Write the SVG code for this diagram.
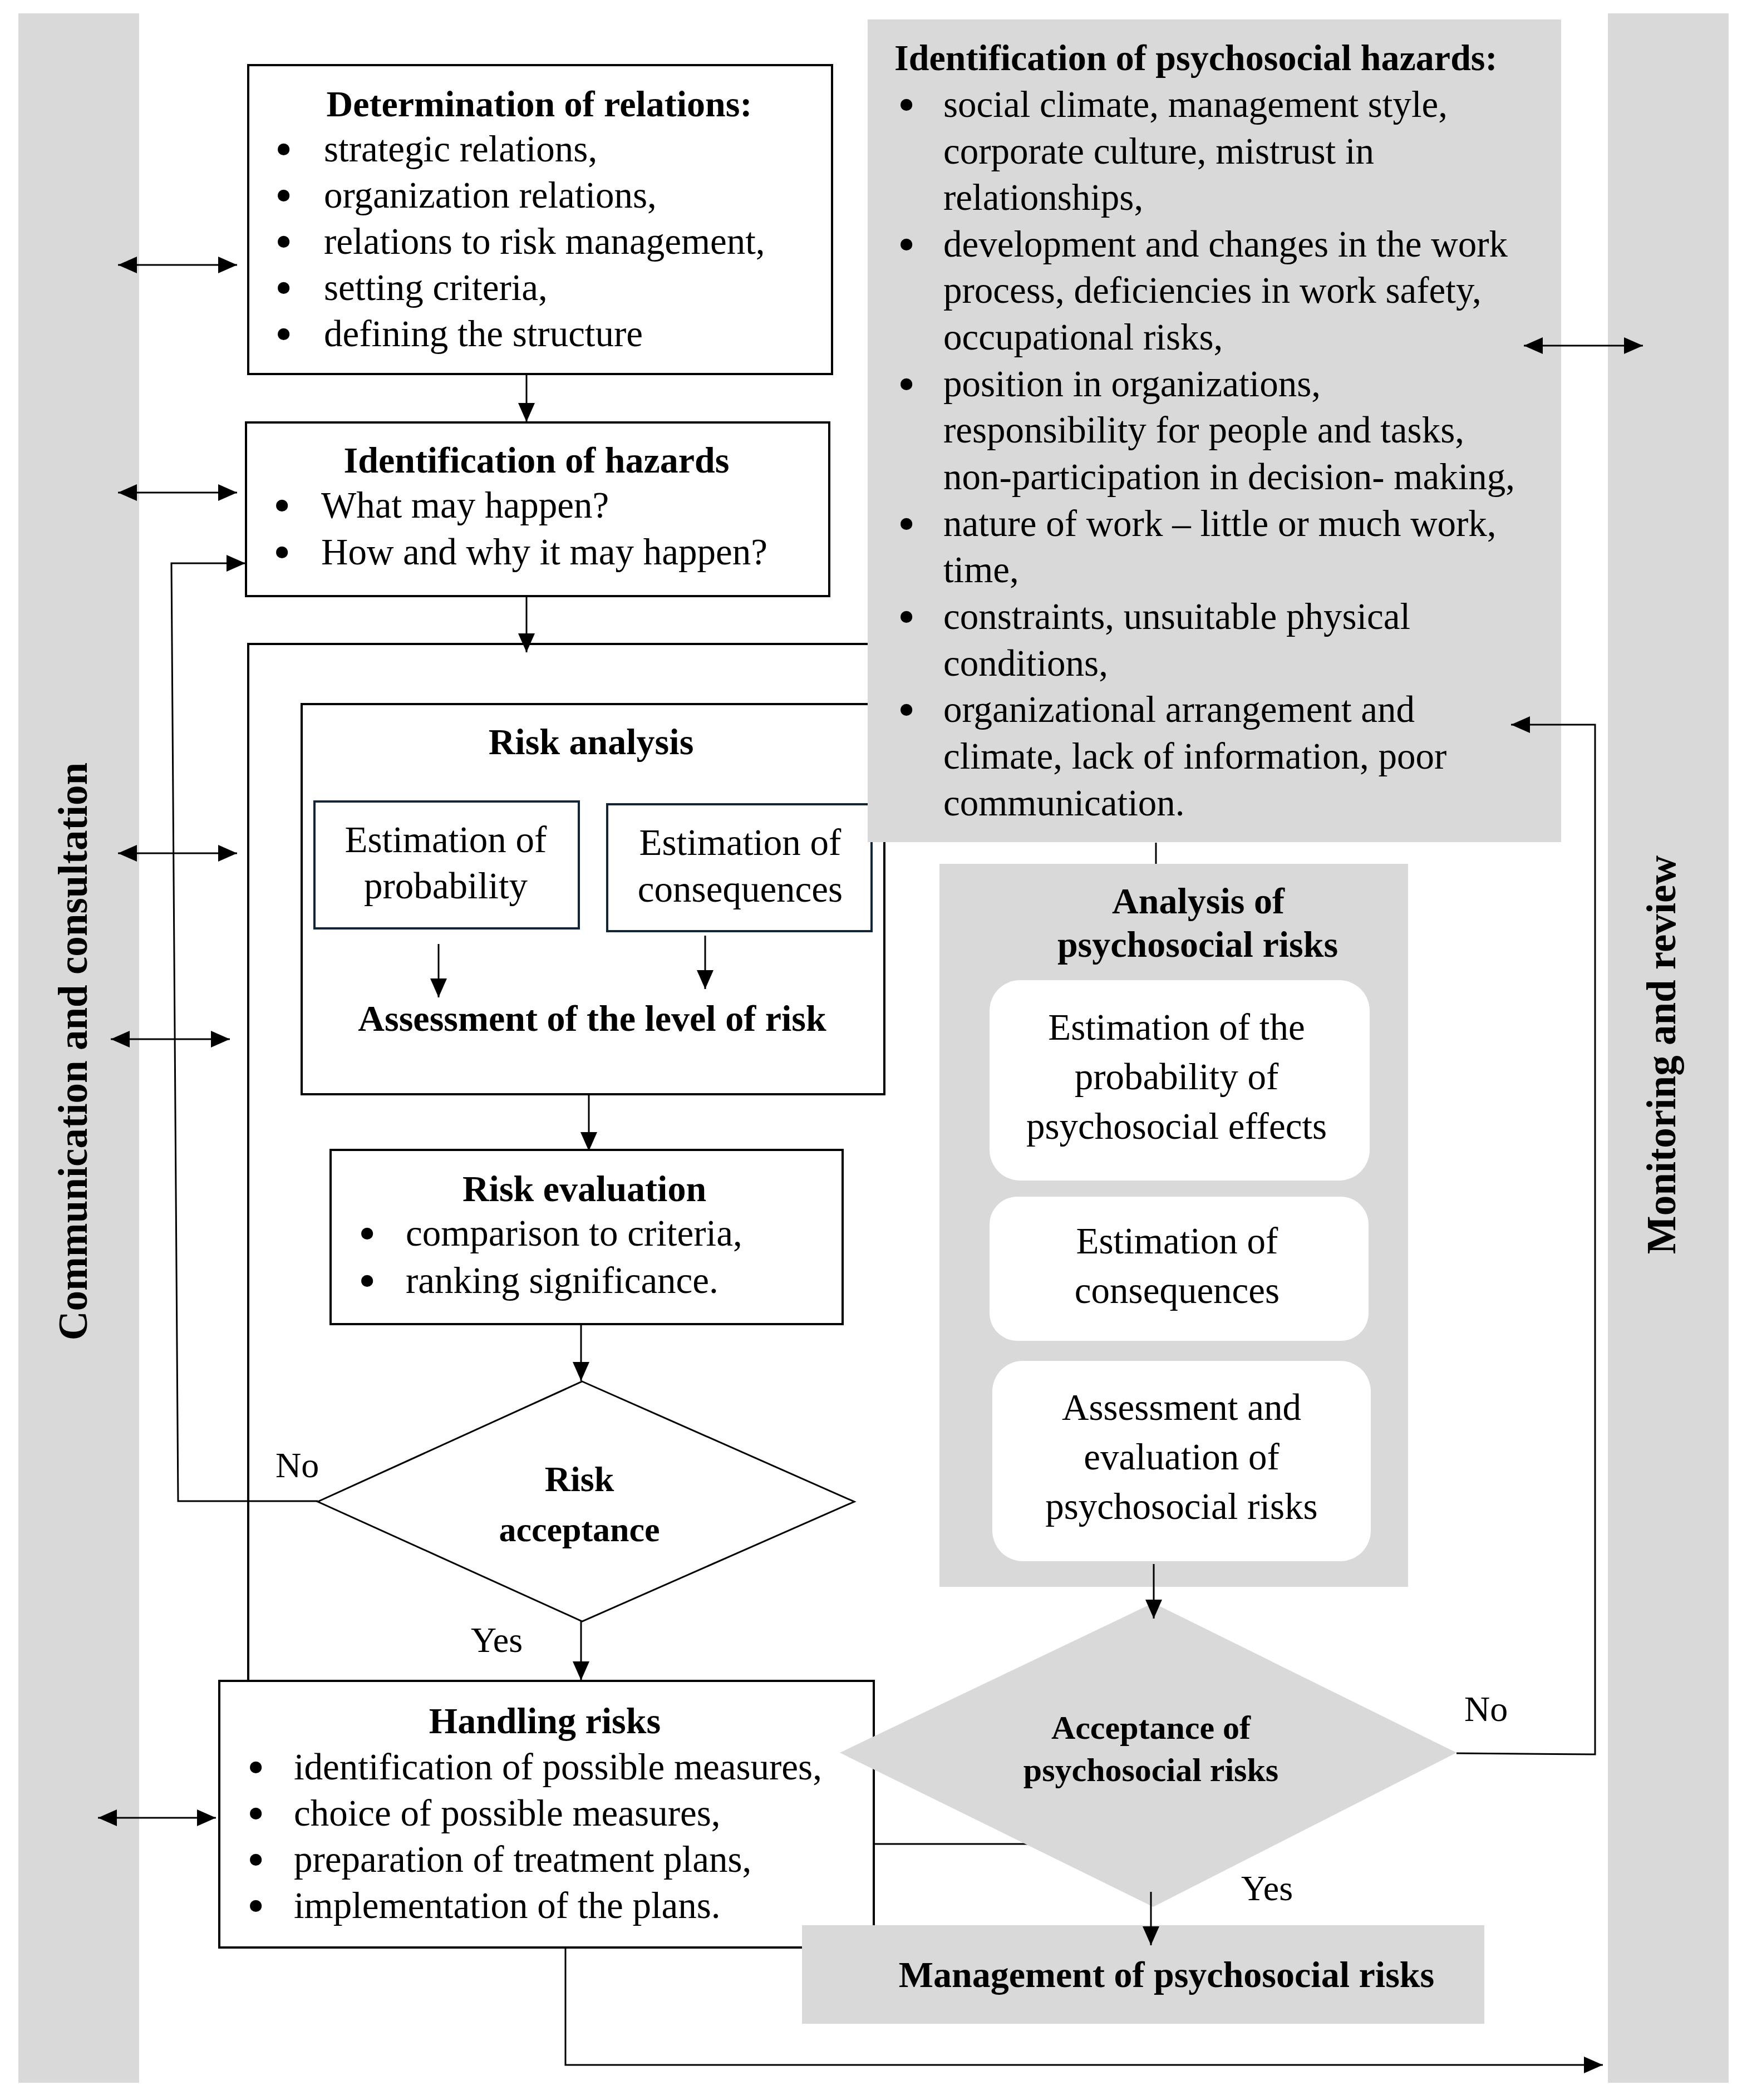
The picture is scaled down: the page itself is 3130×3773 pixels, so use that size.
<svg xmlns="http://www.w3.org/2000/svg" width="3130" height="3773" viewBox="0 0 3130 3773">
<style>
text{font-family:"Liberation Serif","Times New Roman",serif;fill:#000}
.r{font-size:67px}
.u{font-size:78px;font-weight:bold}
.b{font-size:66px;font-weight:bold}
.m{text-anchor:middle}
.box{fill:#fff;stroke:#000;stroke-width:4}
.nav{fill:#fff;stroke:#10253a;stroke-width:4}
.grey{fill:#d9d9d9}
.ln{fill:none;stroke:#000;stroke-width:3}
.arr{fill:none;stroke:#000;stroke-width:3;marker-end:url(#ah)}
.dbl{fill:none;stroke:#000;stroke-width:3;marker-start:url(#ah);marker-end:url(#ah)}
.band{font-size:73px;font-weight:bold;text-anchor:middle}
</style>
<defs>
<marker id="ah" markerUnits="userSpaceOnUse" markerWidth="34" markerHeight="30" viewBox="0 0 34 30" refX="34" refY="15" orient="auto-start-reverse"><path d="M0,0 L34,15 L0,30 z" fill="#000"/></marker>
</defs>
<rect width="3130" height="3773" fill="#fff"/>

<g id="band-communication">
<rect class="grey" x="33" y="24" width="217" height="3718"/>
<text class="band" transform="translate(156,1889) rotate(-90)">Communication and consultation</text>
</g>
<g id="band-monitoring">
<rect class="grey" x="2889" y="24" width="217" height="3718"/>
<text class="band" transform="translate(3010,1895) rotate(-90)">Monitoring and review</text>
</g>

<g id="outer-assessment">
<path class="ln" style="stroke-width:4" d="M446,3020 V1157 H1600"/>
</g>

<g id="connectors-under">
<path class="ln" d="M1570,3313 H1850"/>
</g>

<g id="determination">
<rect class="box" x="446" y="117" width="1049" height="555"/>
<text class="b m" x="969" y="209">Determination of relations:</text>
<text class="r" y="290"><tspan class="u" x="496" dy="4">•</tspan><tspan x="582" dy="-4">strategic relations,</tspan></text>
<text class="r" y="373"><tspan class="u" x="496" dy="4">•</tspan><tspan x="582" dy="-4">organization relations,</tspan></text>
<text class="r" y="456"><tspan class="u" x="496" dy="4">•</tspan><tspan x="582" dy="-4">relations to risk management,</tspan></text>
<text class="r" y="539"><tspan class="u" x="496" dy="4">•</tspan><tspan x="582" dy="-4">setting criteria,</tspan></text>
<text class="r" y="622"><tspan class="u" x="496" dy="4">•</tspan><tspan x="582" dy="-4">defining the structure</tspan></text>
</g>

<g id="hazards">
<rect class="box" x="442" y="759" width="1048" height="312"/>
<text class="b m" x="964" y="849">Identification of hazards</text>
<text class="r" y="930"><tspan class="u" x="493" dy="4">•</tspan><tspan x="577" dy="-4">What may happen?</tspan></text>
<text class="r" y="1014"><tspan class="u" x="493" dy="4">•</tspan><tspan x="577" dy="-4">How and why it may happen?</tspan></text>
</g>

<g id="risk-analysis">
<rect class="box" x="542" y="1265" width="1047" height="701"/>
<text class="b m" x="1062" y="1355">Risk analysis</text>
<text class="b m" x="1064" y="1852">Assessment of the level of risk</text>
</g>
<g id="est-probability">
<rect class="nav" x="565" y="1440" width="475" height="228"/>
<text class="r m" x="801" y="1531">Estimation of</text>
<text class="r m" x="801" y="1614">probability</text>
</g>
<g id="est-consequences">
<rect class="nav" x="1091" y="1445" width="475" height="228"/>
<text class="r m" x="1330" y="1536">Estimation of</text>
<text class="r m" x="1330" y="1620">consequences</text>
</g>

<g id="psychosocial-hazards">
<rect class="grey" x="1559" y="35" width="1246" height="1478"/>
<text class="b" x="1607" y="126">Identification of psychosocial hazards:</text>
<text class="r" y="210"><tspan class="u" x="1615" dy="4">•</tspan><tspan x="1695" dy="-4">social climate, management style,</tspan></text>
<text class="r" x="1695" y="294">corporate culture, mistrust in</text>
<text class="r" x="1695" y="377">relationships,</text>
<text class="r" y="461"><tspan class="u" x="1615" dy="4">•</tspan><tspan x="1695" dy="-4">development and changes in the work</tspan></text>
<text class="r" x="1695" y="544">process, deficiencies in work safety,</text>
<text class="r" x="1695" y="628">occupational risks,</text>
<text class="r" y="712"><tspan class="u" x="1615" dy="4">•</tspan><tspan x="1695" dy="-4">position in organizations,</tspan></text>
<text class="r" x="1695" y="795">responsibility for people and tasks,</text>
<text class="r" x="1695" y="879">non-participation in decision- making,</text>
<text class="r" y="963"><tspan class="u" x="1615" dy="4">•</tspan><tspan x="1695" dy="-4">nature of work – little or much work,</tspan></text>
<text class="r" x="1695" y="1046">time,</text>
<text class="r" y="1130"><tspan class="u" x="1615" dy="4">•</tspan><tspan x="1695" dy="-4">constraints, unsuitable physical</tspan></text>
<text class="r" x="1695" y="1214">conditions,</text>
<text class="r" y="1297"><tspan class="u" x="1615" dy="4">•</tspan><tspan x="1695" dy="-4">organizational arrangement and</tspan></text>
<text class="r" x="1695" y="1381">climate, lack of information, poor</text>
<text class="r" x="1695" y="1465">communication.</text>
</g>

<g id="risk-evaluation">
<rect class="box" x="594" y="2066" width="920" height="313"/>
<text class="b m" x="1050" y="2158">Risk evaluation</text>
<text class="r" y="2238"><tspan class="u" x="646" dy="4">•</tspan><tspan x="729" dy="-4">comparison to criteria,</tspan></text>
<text class="r" y="2323"><tspan class="u" x="646" dy="4">•</tspan><tspan x="729" dy="-4">ranking significance.</tspan></text>
</g>

<g id="risk-acceptance">
<path d="M1046,2482 L1535,2698 L1046,2913 L571,2698 Z" fill="#fff" stroke="#000" stroke-width="3"/>
<text class="b m" x="1041" y="2679" style="font-size:64px">Risk</text>
<text class="b m" x="1041" y="2769" style="font-size:62px">acceptance</text>
</g>

<g id="handling">
<rect class="box" x="394" y="3020" width="1176" height="479"/>
<text class="b m" x="979" y="3114">Handling risks</text>
<text class="r" y="3197"><tspan class="u" x="446" dy="4">•</tspan><tspan x="528" dy="-4">identification of possible measures,</tspan></text>
<text class="r" y="3280"><tspan class="u" x="446" dy="4">•</tspan><tspan x="528" dy="-4">choice of possible measures,</tspan></text>
<text class="r" y="3363"><tspan class="u" x="446" dy="4">•</tspan><tspan x="528" dy="-4">preparation of treatment plans,</tspan></text>
<text class="r" y="3446"><tspan class="u" x="446" dy="4">•</tspan><tspan x="528" dy="-4">implementation of the plans.</tspan></text>
</g>

<g id="psychosocial-analysis">
<rect class="grey" x="1688" y="1552" width="842" height="1299"/>
<text class="b m" x="2153" y="1641">Analysis of</text>
<text class="b m" x="2152" y="1719">psychosocial risks</text>
<rect x="1778" y="1761" width="683" height="360" rx="55" fill="#fff"/>
<text class="r m" x="2114" y="1868">Estimation of the</text>
<text class="r m" x="2114" y="1957">probability of</text>
<text class="r m" x="2114" y="2046">psychosocial effects</text>
<rect x="1778" y="2150" width="681" height="259" rx="50" fill="#fff"/>
<text class="r m" x="2115" y="2252">Estimation of</text>
<text class="r m" x="2115" y="2341">consequences</text>
<rect x="1783" y="2445" width="680" height="360" rx="55" fill="#fff"/>
<text class="r m" x="2123" y="2551">Assessment and</text>
<text class="r m" x="2123" y="2640">evaluation of</text>
<text class="r m" x="2123" y="2729">psychosocial risks</text>
</g>

<g id="psychosocial-acceptance">
<path d="M2072,2880 L2617,3149 L2072,3426 L1509,3149 Z" fill="#d9d9d9"/>
<text class="b m" x="2068" y="3124" style="font-size:60px">Acceptance of</text>
<text class="b m" x="2068" y="3200" style="font-size:60px">psychosocial risks</text>
</g>

<g id="psychosocial-management">
<rect class="grey" x="1441" y="3459" width="1226" height="177"/>
<text class="b m" x="2096" y="3570">Management of psychosocial risks</text>
</g>

<g id="connectors">
<path class="arr" d="M946,672 V758"/>
<path class="arr" d="M946,1071 V1172"/>
<path class="arr" d="M788,1696 V1792"/>
<path class="arr" d="M1267,1681 V1777"/>
<path class="arr" d="M1058,1968 V2068"/>
<path class="arr" d="M1044,2379 V2481"/>
<path class="arr" d="M1044,2913 V3019"/>
<path class="arr" d="M571,2697 H320 L308,1012 H441"/>
<path class="arr" d="M1016,3499 V3710 H2880"/>
<path class="ln" d="M2077,1514 V1552"/>
<path class="arr" d="M2073,2810 V2908"/>
<path class="arr" d="M2068,3399 V3495"/>
<path class="arr" d="M2617,3150 L2866,3152 V1302 H2715"/>
<path class="dbl" d="M212,476 H426"/>
<path class="dbl" d="M212,885 H426"/>
<path class="dbl" d="M212,1533 H426"/>
<path class="dbl" d="M199,1867 H413"/>
<path class="dbl" d="M176,3266 H388"/>
<path class="dbl" d="M2738,621 H2952"/>
<text class="r" x="495" y="2654" style="font-size:64px">No</text>
<text class="r" x="846" y="2968" style="font-size:64px">Yes</text>
<text class="r" x="2631" y="3092" style="font-size:64px">No</text>
<text class="r" x="2230" y="3414" style="font-size:64px">Yes</text>
</g>
</svg>
